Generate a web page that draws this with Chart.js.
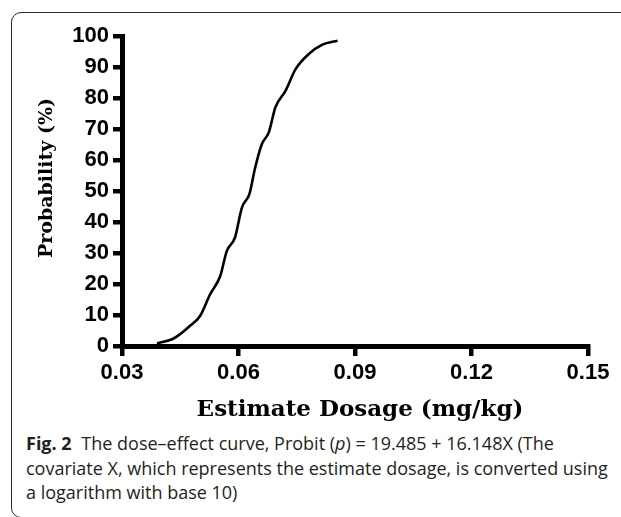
<!DOCTYPE html>
<html>
<head>
<meta charset="utf-8">
<script src="https://cdn.jsdelivr.net/npm/chart.js@4.4.0/dist/chart.umd.min.js"></script>
<style>
  html, body { margin: 0; padding: 0; background: #fff; }
  body { width: 621px; height: 517px; position: relative; overflow: hidden; }
  #frame {
    position: absolute; left: 11px; top: 12px; width: 700px; height: 504px;
    border: 1px solid #2b2b2b; border-radius: 10px;
  }
  #plot { position: absolute; left: 0; top: 0; }
  #caption {
    position: absolute; left: 26px; top: 431px; width: 600px;
    font-family: "Open Sans", "Noto Sans", sans-serif; font-size: 18px;
    line-height: 24.5px; color: #231f20; white-space: nowrap;
  }
  #caption b { font-weight: 700; margin-right: 5px; }
</style>
</head>
<body>
<div id="frame"></div>
<canvas id="plot" width="621" height="430"></canvas>
<div id="caption">
  <div><b>Fig. 2</b> The dose–effect curve, Probit (<i>p</i>) = 19.485 + 16.148X (The</div>
  <div>covariate X, which represents the estimate dosage, is converted using</div>
  <div>a logarithm with base 10)</div>
</div>
<script>
// dose (mg/kg) vs probability (%)
const doses = [0.0390, 0.0434, 0.0475, 0.0501, 0.0527, 0.0553, 0.0570, 0.0591, 0.0609, 0.0628,
               0.0643, 0.0660, 0.0678, 0.0695, 0.0721, 0.0747, 0.0781, 0.0816, 0.0855];
const probability = [0.8, 2.5, 6.5, 9.7, 16.7, 22.6, 30.7, 35.0, 44.7, 49.0,
                     57.6, 65.1, 68.9, 77.0, 82.3, 89.3, 94.2, 97.2, 98.5];
const xTicks = [0.03, 0.06, 0.09, 0.12, 0.15];
const yTicks = [0, 10, 20, 30, 40, 50, 60, 70, 80, 90, 100];
const xTitle = 'Estimate Dosage (mg/kg)';
const yTitle = 'Probability (%)';

const tickFont = { family: '"Liberation Sans", Arial, sans-serif', size: 22, weight: 'bold' };

// axis titles drawn at the positions used in the figure
const axisTitles = {
  id: 'axisTitles',
  afterDraw(chart) {
    const ctx = chart.ctx;
    ctx.save();
    ctx.fillStyle = '#000';
    ctx.textAlign = 'center';
    ctx.textBaseline = 'middle';
    ctx.font = 'bold 23px "DejaVu Serif", serif';
    ctx.fillText(xTitle, 360, 410);
    ctx.translate(47, 178);
    ctx.rotate(-Math.PI / 2);
    ctx.font = 'bold 19px "DejaVu Serif", serif';
    ctx.fillText(yTitle, 0, 0);
    ctx.restore();
  }
};

new Chart(document.getElementById('plot').getContext('2d'), {
  type: 'line',
  data: {
    datasets: [{
      data: doses.map((d, i) => ({ x: d, y: probability[i] })),
      borderColor: '#000',
      borderWidth: 2.6,
      pointRadius: 0,
      fill: false,
      cubicInterpolationMode: 'monotone'
    }]
  },
  options: {
    responsive: false,
    animation: false,
    devicePixelRatio: 1,
    layout: { padding: { top: 36, right: 33, left: 0, bottom: 0 } },
    plugins: { legend: { display: false }, tooltip: { enabled: false } },
    scales: {
      x: {
        type: 'linear',
        min: 0.03,
        max: 0.15,
        afterFit: s => { s.height = 84; },
        afterBuildTicks: s => { s.ticks = xTicks.map(v => ({ value: v })); },
        ticks: { font: tickFont, color: '#000', padding: 4, callback: v => v.toFixed(2) },
        grid: { drawOnChartArea: false, tickLength: 10, lineWidth: 4.5, tickWidth: 4.5, tickColor: '#000' },
        border: { display: true, color: '#000', width: 5 }
      },
      y: {
        min: 0,
        max: 100,
        afterFit: s => { s.width = 122; },
        afterBuildTicks: s => { s.ticks = yTicks.map(v => ({ value: v })); },
        ticks: { font: tickFont, color: '#000', padding: 4 },
        grid: { drawOnChartArea: false, tickLength: 9, lineWidth: 4.5, tickWidth: 4.5, tickColor: '#000' },
        border: { display: true, color: '#000', width: 5 }
      }
    }
  },
  plugins: [axisTitles]
});
</script>
</body>
</html>
